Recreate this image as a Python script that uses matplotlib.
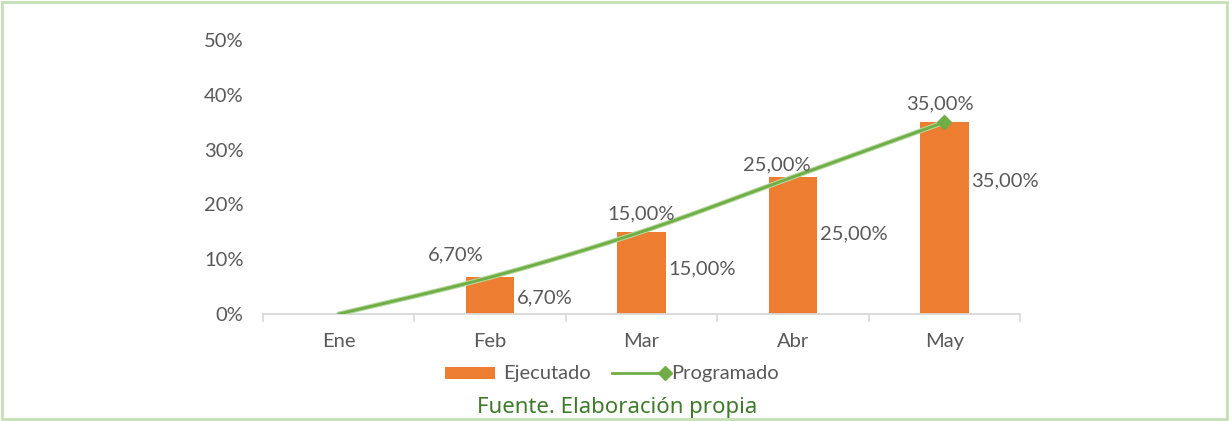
import numpy as np
import matplotlib.pyplot as plt
from matplotlib.lines import Line2D
from matplotlib.patches import Rectangle

months = ["Ene", "Feb", "Mar", "Abr", "May"]
ejecutado = [None, 6.70, 15.00, 25.00, 35.00]
programado = [0.0, 6.70, 15.00, 25.00, 35.00]
y_ticks = [0, 10, 20, 30, 40, 50]

ORANGE = "#ed7d31"
GREEN = "#70ad47"
GREEN_LIGHT = "#b4d89b"
TEXT = "#595959"
AXIS = "#d9d9d9"
FONT = ["Lato", "DejaVu Sans"]
FS = 14.5

plt.rcParams["font.family"] = FONT

W, H = 1229, 421


def fx(px):
    return px / W


def fy(py):
    return 1 - py / H


def fmt(v):
    return f"{v:.2f}".replace(".", ",") + "%"


def smooth(xs, ys, n=40):
    """Catmull-Rom curve through the points, as a smoothed chart line."""
    p = np.column_stack([xs, ys]).astype(float)
    p = np.vstack([p[0], p, p[-1]])
    out = []
    for i in range(1, len(p) - 2):
        p0, p1, p2, p3 = p[i - 1], p[i], p[i + 1], p[i + 2]
        t = np.linspace(0, 1, n)[:, None]
        seg = 0.5 * ((2 * p1) + (-p0 + p2) * t
                     + (2 * p0 - 5 * p1 + 4 * p2 - p3) * t ** 2
                     + (-p0 + 3 * p1 - 3 * p2 + p3) * t ** 3)
        out.append(seg if i == 1 else seg[1:])
    c = np.vstack(out)
    return c[:, 0], c[:, 1]


fig = plt.figure(figsize=(W / 100, H / 100), dpi=100)
ax = fig.add_axes([fx(263), fy(314), fx(1020) - fx(263), fy(40) - fy(314)])

x = np.arange(len(months))
bw = 0.32

# bars
bx = [i for i, v in enumerate(ejecutado) if v is not None]
bv = [v for v in ejecutado if v is not None]
ax.bar(bx, bv, width=bw, color=ORANGE, zorder=2)

# smoothed line with a soft edge
sx, sy = smooth(x, programado)
ax.plot(sx, sy, color=GREEN_LIGHT, lw=3.6, solid_capstyle="round", zorder=3)
ax.plot(sx, sy, color=GREEN, lw=2.0, solid_capstyle="round", zorder=4)
ax.plot([x[-1]], [programado[-1]], marker="D", ms=7, color=GREEN, zorder=5, lw=0)

# bar labels, to the right of each bar
bar_label_y = [2.9, 8.2, 14.6, 24.3]
for xi, v, ly in zip(bx, bv, bar_label_y):
    ax.text(xi + bw / 2 + 0.02, ly, fmt(v), ha="left", va="center",
            fontsize=FS, color=TEXT, zorder=6)

# line labels, above each point
line_offsets = [(-34, 22), (0, 18), (-16, 12), (-4, 18)]
for xi, v, (dx, dy) in zip(x[1:], programado[1:], line_offsets):
    ax.annotate(fmt(v), (xi, v), xytext=(dx, dy), textcoords="offset pixels",
                ha="center", va="center", fontsize=FS, color=TEXT, zorder=6)

ax.set_xlim(-0.5, len(months) - 0.5)
ax.set_ylim(0, 50)
ax.set_yticks(y_ticks)
ax.set_yticklabels([f"{t}%" for t in y_ticks])
ax.set_xticks(x)
ax.set_xticklabels(months)
ax.tick_params(axis="y", length=0, pad=14, labelsize=FS, labelcolor=TEXT)
ax.tick_params(axis="x", length=0, pad=14, labelsize=FS, labelcolor=TEXT)
ax.set_xticks(np.arange(-0.5, len(months)), minor=True)
ax.tick_params(axis="x", which="minor", length=6, width=1.2, color=AXIS, direction="out")
for s in ["top", "right", "left"]:
    ax.spines[s].set_visible(False)
ax.spines["bottom"].set_color(AXIS)
ax.spines["bottom"].set_linewidth(1.3)

# legend drawn in figure coordinates
ly = fy(373)
fig.patches.append(Rectangle((fx(445), fy(379)), fx(495) - fx(445), fy(367) - fy(379),
                             transform=fig.transFigure, facecolor=ORANGE, edgecolor="none"))
fig.text(fx(503), ly, "Ejecutado", ha="left", va="center", fontsize=FS, color=TEXT)
fig.lines.append(Line2D([fx(612), fx(665)], [ly, ly], transform=fig.transFigure,
                        color=GREEN, lw=2))
fig.lines.append(Line2D([fx(665)], [ly], transform=fig.transFigure, color=GREEN,
                        marker="D", ms=7, lw=0))
fig.text(fx(671), ly, "Programado", ha="left", va="center", fontsize=FS, color=TEXT)

fig.text(fx(617), fy(407), "Fuente. Elaboración propia", ha="center", va="center",
         fontsize=16, color="#3f7a2b", family=["Noto Sans", "DejaVu Sans"])

fig.patches.append(Rectangle((fx(2), 2 / H), 1225 / W, 417 / H,
                             transform=fig.transFigure, fill=False,
                             edgecolor="#c5e0b4", lw=2))

fig.savefig("out.png", dpi=100)
